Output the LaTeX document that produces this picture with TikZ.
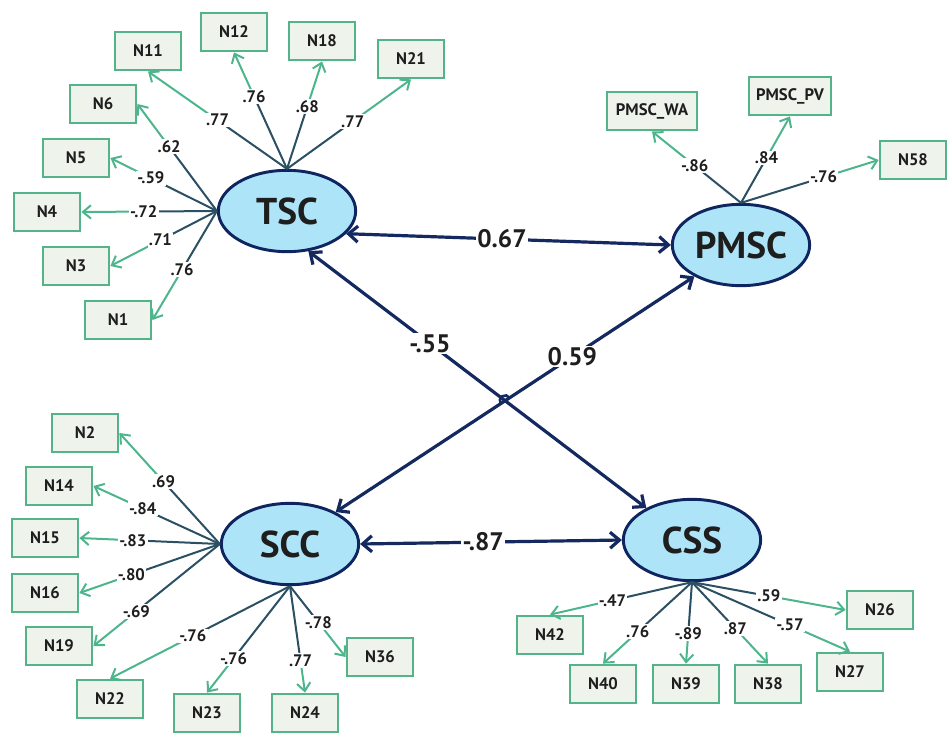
\documentclass[tikz,border=0pt]{standalone}
\usepackage{fontspec}
\setmainfont{PT Sans}
\usepackage{tikz}
\usetikzlibrary{shapes.geometric,arrows.meta,intersections}
\definecolor{LatentFill}{HTML}{AEE4F7}
\definecolor{LatentLine}{HTML}{0F2560}
\definecolor{CorrLine}{HTML}{14295F}
\definecolor{ItemFill}{HTML}{EEF4EC}
\definecolor{ItemLine}{HTML}{55B38A}
\definecolor{LoadGreen}{HTML}{4DB58C}
\definecolor{LoadDark}{HTML}{2B4F63}
\definecolor{TextDark}{HTML}{1E1E1E}

\begin{document}
\begin{tikzpicture}[x=0.75pt,y=-0.75pt,
    latent/.style={ellipse,draw=LatentLine,line width=2.2pt,fill=LatentFill,
      minimum width=103pt,minimum height=61pt,inner sep=0pt,text=TextDark,
      font=\bfseries\fontsize{28}{28}\selectfont},
    item/.style={rectangle,draw=ItemLine,line width=1.6pt,fill=ItemFill,
      minimum width=50pt,minimum height=29pt,inner sep=2pt,text=TextDark,
      font=\bfseries\fontsize{12.5}{12.5}\selectfont},
    loadin/.style={draw=LoadDark,line width=1.5pt},
    loadout/.style={draw=LoadGreen,line width=1.5pt,-{Straight Barb[length=6pt,width=10pt]}},
    loadlbl/.style={fill=white,inner sep=1pt,text=TextDark,
      font=\bfseries\fontsize{12.5}{12.5}\selectfont},
    corr/.style={draw=CorrLine,line width=2.4pt,
      {Straight Barb[length=7pt,width=12pt]}-{Straight Barb[length=7pt,width=12pt]}},
    corrlbl/.style={fill=white,inner sep=1pt,text=TextDark,
      font=\bfseries\fontsize{19}{19}\selectfont}]
  \useasboundingbox (0,0) rectangle (947,733);

  \node[latent] (TSC) at (287,211) {TSC};
  \node[latent] (PMSC) at (741,245) {PMSC};
  \node[latent] (SCC) at (290,544) {SCC};
  \node[latent] (CSS) at (692,540) {CSS};

  \node[item] (N11) at (148,51) {N11};
  \node[item] (N12) at (234,32) {N12};
  \node[item] (N18) at (322,41) {N18};
  \node[item] (N21) at (411,59) {N21};
  \node[item] (N6) at (103,104) {N6};
  \node[item] (N5) at (76,158) {N5};
  \node[item] (N4) at (47,212) {N4};
  \node[item] (N3) at (76,266) {N3};
  \node[item] (N1) at (118,320) {N1};

  \node[item,minimum width=68pt] (WA) at (652,111) {PMSC\_WA};
  \node[item,minimum width=62pt] (PV) at (790,96) {PMSC\_PV};
  \node[item] (N58) at (913,160) {N58};

  \node[item] (N2) at (85,433) {N2};
  \node[item] (N14) at (59,486) {N14};
  \node[item] (N15) at (45,538) {N15};
  \node[item] (N16) at (45,593) {N16};
  \node[item] (N19) at (59,646) {N19};
  \node[item] (N22) at (110,699) {N22};
  \node[item] (N23) at (207,713) {N23};
  \node[item] (N24) at (305,713) {N24};
  \node[item] (N36) at (380,657) {N36};

  \node[item] (N42) at (550,635) {N42};
  \node[item] (N40) at (603,684) {N40};
  \node[item] (N39) at (686,684) {N39};
  \node[item] (N38) at (768,684) {N38};
  \node[item] (N27) at (850,672) {N27};
  \node[item] (N26) at (880,610) {N26};

  \foreach \lv/\la/\mv/\ma/\p/\v in {
      TSC/north/N11/south/0.50/.77, TSC/north/N12/south/0.62/.76,
      TSC/north/N18/south/0.58/.68, TSC/north/N21/south/0.53/.77,
      TSC/west/N6/east/0.60/.62, TSC/west/N5/east/0.62/-.59,
      TSC/west/N4/east/0.54/-.72, TSC/west/N3/east/0.53/.71,
      TSC/west/N1/east/0.54/.76,
      PMSC/north/WA/south/0.52/-.86, PMSC/north/PV/south/0.52/.84,
      PMSC/north/N58/west/0.60/-.76,
      SCC/west/N2/east/0.56/.69, SCC/west/N14/east/0.61/-.84,
      SCC/west/N15/east/0.62/-.83, SCC/west/N16/east/0.63/-.80,
      SCC/west/N19/east/0.66/-.69, SCC/south/N22/north/0.54/-.76,
      SCC/south/N23/north/0.68/-.76, SCC/south/N24/north/0.70/.77,
      SCC/south/N36/west/0.51/-.78,
      CSS/south/N42/north/0.56/-.47, CSS/south/N40/north/0.61/.76,
      CSS/south/N39/north/0.63/-.89, CSS/south/N38/north/0.57/.87,
      CSS/south/N27/north/0.62/-.57, CSS/south/N26/west/0.50/.59} {
    \path (\lv.\la) -- (\mv.\ma) coordinate[pos=\p] (m\mv);
    \draw[loadin] (\lv.\la) -- (m\mv);
    \draw[loadout] (m\mv) -- (\mv.\ma);
    \node[loadlbl] (v\mv) at (m\mv) {\v};
  }

  \draw[corr] (TSC.-21) -- node[corrlbl,pos=.48] (c1) {0.67} (PMSC.west);
  \draw[corr,name path=tc] (TSC.-62) -- node[corrlbl,pos=.36] (c2) {-.55} (CSS.145);
  \draw[corr,name path=ps] (PMSC.214) -- node[corrlbl,pos=.34] (c3) {0.59} (SCC.35);
  \draw[corr] (SCC.east) -- node[corrlbl,pos=.47] (c4) {-.87} (CSS.west);
  \path[name intersections={of=tc and ps,by=hop}];
  \draw[CorrLine,line width=2pt] ([shift={(213:4pt)}]hop) arc[start angle=213,end angle=33,radius=4pt];
\end{tikzpicture}
\end{document}
